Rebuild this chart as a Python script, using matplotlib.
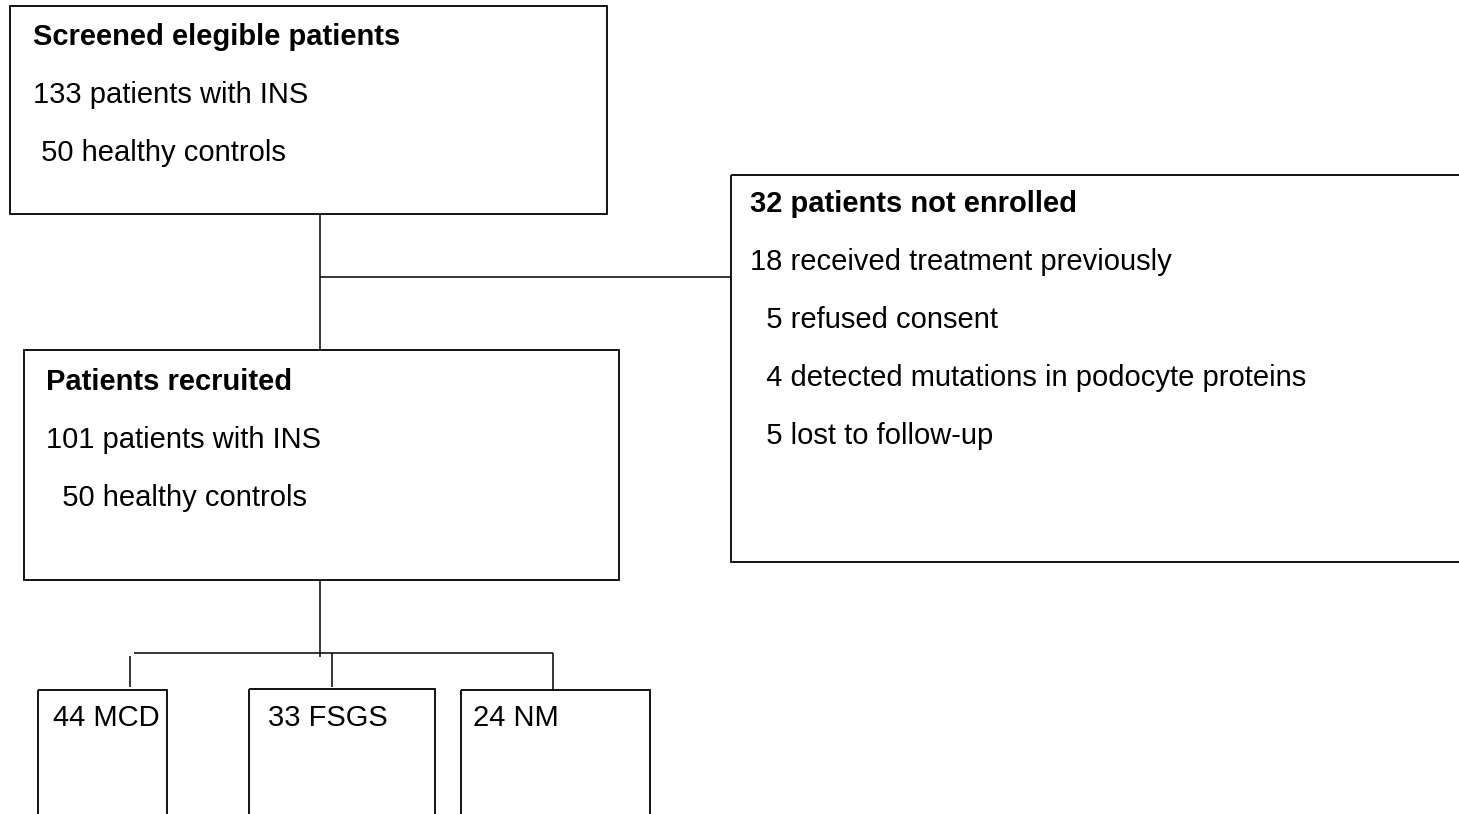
import matplotlib
matplotlib.use("Agg")
import matplotlib.pyplot as plt
from matplotlib.patches import Rectangle

# box contents (title in bold, then lines)
screened_title = "Screened elegible patients"
screened_lines = ["133 patients with INS", " 50 healthy controls"]
excluded_title = "32 patients not enrolled"
excluded_lines = ["18 received treatment previously", "  5 refused consent",
                  "  4 detected mutations in podocyte proteins", "  5 lost to follow-up"]
recruited_title = "Patients recruited"
recruited_lines = ["101 patients with INS", "  50 healthy controls"]
groups = ["44 MCD", "33 FSGS", "24 NM"]

W, H = 1459, 814
FS = 21
LINE_GAP = 58
plt.rcParams['font.family'] = ['Liberation Sans', 'DejaVu Sans']

fig = plt.figure(figsize=(W / 100, H / 100), dpi=100)
ax = fig.add_axes([0, 0, 1, 1])
ax.set_xlim(0, W)
ax.set_ylim(H, 0)
ax.axis('off')


def box(x0, y0, x1, y1):
    ax.add_patch(Rectangle((x0, y0), x1 - x0, y1 - y0, fill=False,
                           edgecolor='black', linewidth=1.3, clip_on=False))


def line(xs, ys):
    ax.plot(xs, ys, color='black', linewidth=1.1, solid_capstyle='butt')


def block(x, y, title, lines):
    ax.text(x, y, title, fontsize=FS, fontweight='bold', va='baseline', ha='left')
    y += LINE_GAP
    for t in lines:
        ax.text(x, y, t, fontsize=FS, va='baseline', ha='left')
        y += LINE_GAP


# boxes
box(10, 6, 607, 214)
box(731, 175, W + 5, 562)
box(24, 350, 619, 580)
bottom_boxes = [(38, 690, 167), (249, 689, 435), (461, 690, 650)]
for x0, y0, x1 in bottom_boxes:
    box(x0, y0, x1, H + 5)

# connectors
line([320, 320], [214, 350])
line([320, 731], [277, 277])
line([320, 320], [580, 657])
line([134, 553], [653, 653])
line([130, 130], [656, 687])
line([332, 332], [653, 687])
line([553, 553], [653, 690])

# text
block(33, 45, screened_title, screened_lines)
block(750, 212, excluded_title, excluded_lines)
block(46, 390, recruited_title, recruited_lines)
group_x = [53, 268, 473]
for gx, g in zip(group_x, groups):
    ax.text(gx, 726, g, fontsize=FS, va='baseline', ha='left')

fig.savefig("out.png", dpi=100)
